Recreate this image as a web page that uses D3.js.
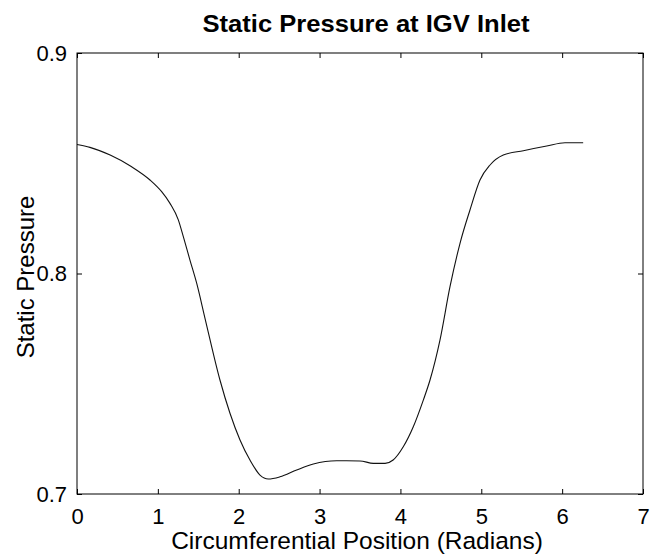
<!DOCTYPE html>
<html>
<head>
<meta charset="utf-8">
<script src="https://cdn.jsdelivr.net/npm/d3@7"></script>
<style>
  body { margin: 0; background: #fff; }
  svg { display: block; }
  text { font-family: "Liberation Sans", Arial, Helvetica, sans-serif; fill: #000; }
</style>
</head>
<body>
<svg id="chart" width="650" height="554"></svg>
<script>
// Circumferential position (radians) and static pressure at the IGV inlet
const position = [0, 0.16, 0.41, 0.676, 0.903, 1.047, 1.15, 1.253, 1.315, 1.397, 1.48, 1.583,
  1.768, 1.892, 2.016, 2.139, 2.263, 2.366, 2.51, 2.717, 2.923, 3.211, 3.5, 3.665, 3.81, 3.91,
  4.035, 4.159, 4.283, 4.366, 4.489, 4.613, 4.737, 4.86, 4.984, 5.108, 5.272, 5.52, 5.809, 6.035, 6.26];
const pressure = [0.8585, 0.8572, 0.8537, 0.8484, 0.8424, 0.8371, 0.8318, 0.8243, 0.8167, 0.8061, 0.7956, 0.7797,
  0.7517, 0.7366, 0.7245, 0.7154, 0.7086, 0.7068, 0.7078, 0.7109, 0.7136, 0.7151, 0.7150, 0.7139, 0.7139, 0.7154,
  0.7214, 0.7305, 0.7426, 0.7517, 0.7698, 0.7940, 0.8137, 0.8288, 0.8424, 0.8492, 0.8537, 0.8557, 0.8578, 0.8593, 0.8593];
const xTicks = [0, 1, 2, 3, 4, 5, 6, 7];
const yTicks = [0.7, 0.8, 0.9];

const svg = d3.select("#chart");
const plotL = 77, plotR = 643, plotT = 53, plotB = 494;

const x = d3.scaleLinear().domain([0, 7]).range([plotL, plotR]);
const y = d3.scaleLinear().domain([0.7, 0.9]).range([plotB, plotT]);

// Frame
svg.append("rect")
  .attr("x", plotL).attr("y", plotT)
  .attr("width", plotR - plotL).attr("height", plotB - plotT)
  .attr("fill", "none").attr("stroke", "#000").attr("stroke-width", 1);

// Axes with inward ticks on all four sides
const tickLen = 5;
const fmtY = d => d3.format(".1f")(d);

svg.append("g").attr("transform", `translate(0,${plotB})`)
  .call(d3.axisBottom(x).tickValues(xTicks).tickSize(-tickLen).tickPadding(tickLen + 9).tickFormat(d3.format("d")))
  .call(g => g.select(".domain").remove())
  .call(g => g.selectAll("text").attr("font-size", 22).attr("font-family", "Liberation Sans, Arial, sans-serif"));

svg.append("g").attr("transform", `translate(0,${plotT})`)
  .call(d3.axisTop(x).tickValues(xTicks).tickSize(-tickLen).tickFormat(""))
  .call(g => g.select(".domain").remove());

svg.append("g").attr("transform", `translate(${plotL},0)`)
  .call(d3.axisLeft(y).tickValues(yTicks).tickSize(-tickLen).tickPadding(tickLen + 5).tickFormat(fmtY))
  .call(g => g.select(".domain").remove())
  .call(g => g.selectAll("text").attr("font-size", 22).attr("font-family", "Liberation Sans, Arial, sans-serif"));

svg.append("g").attr("transform", `translate(${plotR},0)`)
  .call(d3.axisRight(y).tickValues(yTicks).tickSize(-tickLen).tickFormat(""))
  .call(g => g.select(".domain").remove());

// Pressure curve
const line = d3.line()
  .x((d, i) => x(position[i]))
  .y((d, i) => y(pressure[i]))
  .curve(d3.curveMonotoneX);

svg.append("path")
  .datum(pressure)
  .attr("d", line)
  .attr("fill", "none")
  .attr("stroke", "#111")
  .attr("stroke-width", 1.1);

// Titles
svg.append("text")
  .attr("x", 366).attr("y", 32)
  .attr("text-anchor", "middle")
  .attr("font-size", 24).attr("font-weight", "bold")
  .attr("textLength", 327).attr("lengthAdjust", "spacingAndGlyphs")
  .text("Static Pressure at IGV Inlet");

svg.append("text")
  .attr("x", 357).attr("y", 549)
  .attr("text-anchor", "middle")
  .attr("font-size", 24.5)
  .text("Circumferential Position (Radians)");

svg.append("text")
  .attr("transform", `translate(34,277) rotate(-90)`)
  .attr("text-anchor", "middle")
  .attr("font-size", 24)
  .text("Static Pressure");
</script>
</body>
</html>
